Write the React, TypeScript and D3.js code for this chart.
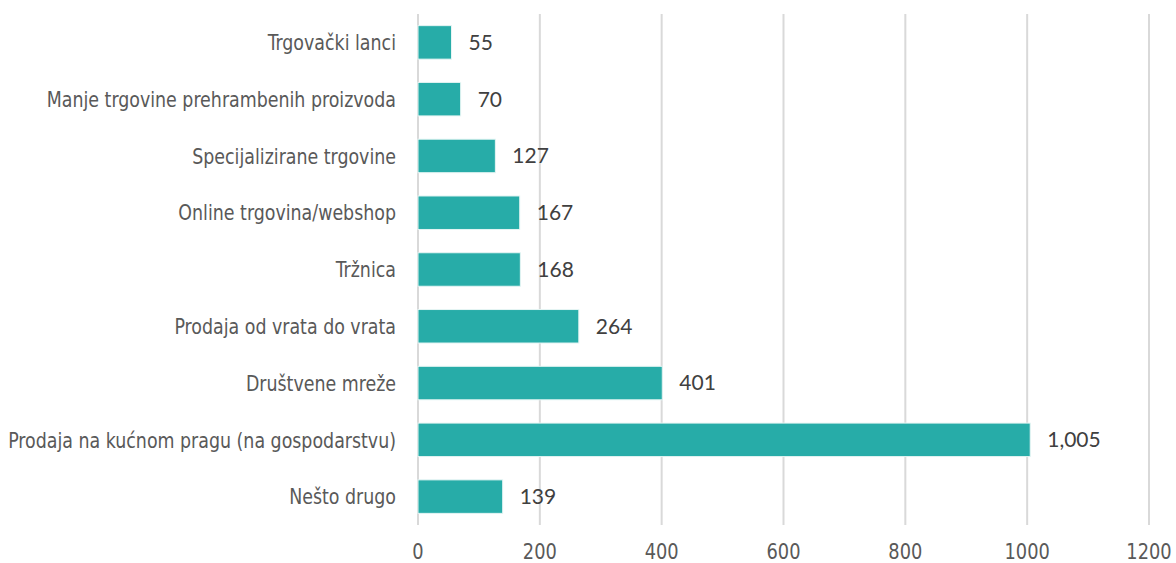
import { useEffect, useRef } from "react"
import * as d3 from "d3"

const categories = [
  "Trgovački lanci",
  "Manje trgovine prehrambenih proizvoda",
  "Specijalizirane trgovine",
  "Online trgovina/webshop",
  "Tržnica",
  "Prodaja od vrata do vrata",
  "Društvene mreže",
  "Prodaja na kućnom pragu (na gospodarstvu)",
  "Nešto drugo",
]
const values = [55, 70, 127, 167, 168, 264, 401, 1005, 139]
const xTicks = [0, 200, 400, 600, 800, 1000, 1200]

export default function App() {
  const svgRef = useRef<SVGSVGElement>(null)

  useEffect(() => {
    if (!svgRef.current) return
    d3.select(svgRef.current).selectAll("*").remove()

    const width = 1176
    const height = 563
    const svg = d3.select(svgRef.current).attr("width", width).attr("height", height)

    const labelFont = "'DejaVu Sans Condensed', 'Roboto', sans-serif"
    const numFont = "Lato, 'Open Sans', sans-serif"
    const textColor = "#595959"

    const x = d3.scaleLinear().domain([0, 1200]).range([418, 1149])
    const y = d3.scaleBand().domain(categories).range([14, 525]).paddingInner(0.41).paddingOuter(0.205)

    // Gridlines
    svg
      .append("g")
      .selectAll("line")
      .data(xTicks)
      .enter()
      .append("line")
      .attr("x1", (d) => x(d))
      .attr("x2", (d) => x(d))
      .attr("y1", 14)
      .attr("y2", 525)
      .attr("stroke", "#d9d9d9")
      .attr("stroke-width", 2)

    // Bars
    svg
      .append("g")
      .selectAll("rect")
      .data(values)
      .enter()
      .append("rect")
      .attr("x", x(0))
      .attr("y", (_, i) => y(categories[i]) || 0)
      .attr("width", (d) => x(d) - x(0))
      .attr("height", y.bandwidth())
      .attr("fill", "#27aca8")
      .attr("stroke", "#e6f5f4")
      .attr("stroke-width", 1)

    // Value labels
    svg
      .append("g")
      .selectAll("text")
      .data(values)
      .enter()
      .append("text")
      .attr("x", (d) => x(d) + 17)
      .attr("y", (_, i) => (y(categories[i]) || 0) + y.bandwidth() / 2)
      .attr("dy", "0.35em")
      .text((d) => d3.format(",")(d))
      .style("fill", "#404040")
      .style("font-family", numFont)
      .style("font-size", "21px")

    // Category labels (squeezed horizontally to mimic a condensed face)
    svg
      .append("g")
      .selectAll("text")
      .data(categories)
      .enter()
      .append("text")
      .attr("transform", (d) => `translate(396,${(y(d) || 0) + y.bandwidth() / 2}) scale(0.88,1)`)
      .attr("dy", "0.35em")
      .attr("text-anchor", "end")
      .text((d) => d)
      .style("fill", textColor)
      .style("font-family", labelFont)
      .style("font-size", "22px")

    // X axis labels
    svg
      .append("g")
      .selectAll("text")
      .data(xTicks)
      .enter()
      .append("text")
      .attr("transform", (d) => `translate(${x(d)},551) scale(0.9,1)`)
      .attr("dy", "0.35em")
      .attr("text-anchor", "middle")
      .text((d) => d)
      .style("fill", textColor)
      .style("font-family", labelFont)
      .style("font-size", "22px")
  }, [])

  return (
    <svg
      ref={svgRef}
      style={{ position: "absolute", left: 0, top: 0, background: "white" }}
    ></svg>
  )
}
